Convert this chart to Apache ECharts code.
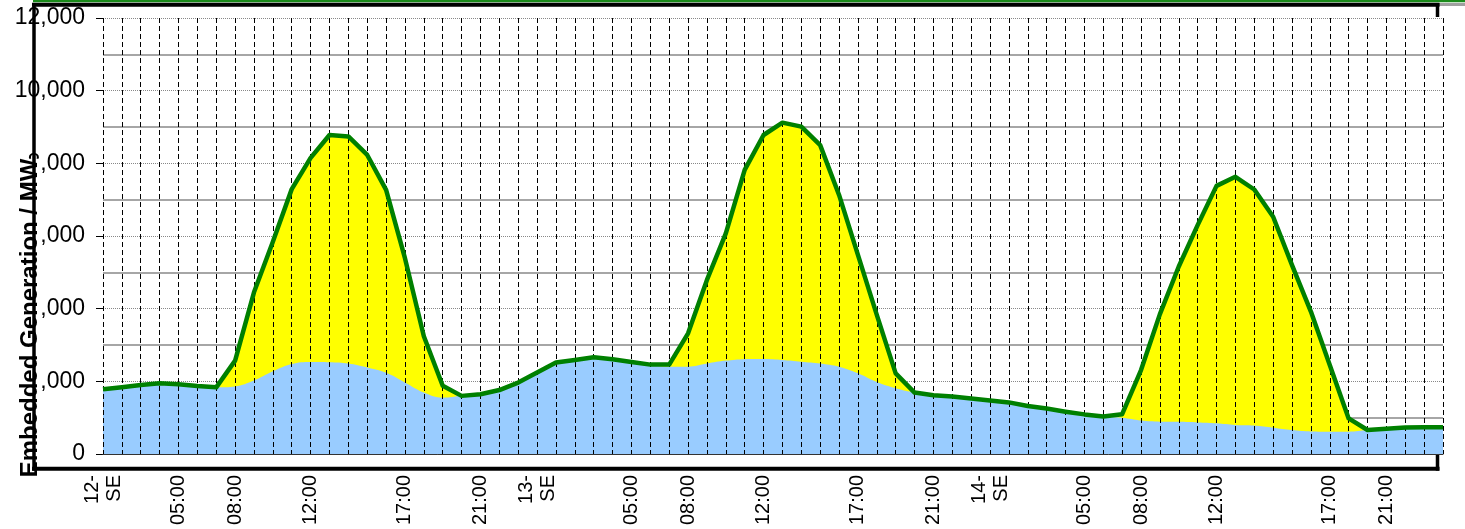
<!DOCTYPE html>
<html><head><meta charset="utf-8">
<script src="https://cdn.jsdelivr.net/npm/echarts@6/dist/echarts.min.js"></script>
<style>html,body{margin:0;padding:0;background:#fff}#c{width:1465px;height:529px}</style>
</head><body><div id="c"></div>
<script>
// Category (hour) labels, 72 hourly points over three days
const hourLabels = [
  '12-\nSE','','','','05:00','','','08:00','','','','12:00','','','','','17:00','','','','21:00','','',
  '13-\nSE','','','','','05:00','','','08:00','','','','12:00','','','','','17:00','','','','21:00','','',
  '14-\nSE','','','','','05:00','','','08:00','','','','12:00','','','','','','17:00','','','21:00','','',''
];
// Total embedded generation (green line), MW
const totalGen = [
  1780,1835,1900,1945,1920,1870,1835,2570,4450,5840,7290,8150,8780,8740,8230,7270,5390,3240,1880,1600,1645,1760,1965,2240,
  2520,2590,2660,2605,2530,2460,2460,3320,4790,6070,7820,8780,9120,9010,8500,7130,5480,3830,2220,1690,1615,1580,1530,1470,
  1420,1320,1250,1165,1090,1030,1095,2310,3850,5160,6300,7380,7630,7280,6530,5200,3920,2450,980,660,695,730,735,735
];
// Embedded wind (blue area), MW
const windGen = [
  1780,1835,1900,1945,1920,1870,1835,1860,2020,2275,2477,2532,2525,2490,2380,2235,1970,1690,1550,1600,1645,1760,1965,2240,
  2520,2590,2660,2605,2530,2440,2400,2404,2490,2570,2610,2615,2590,2540,2490,2400,2220,1980,1810,1690,1615,1580,1530,1470,
  1420,1320,1250,1165,1090,1030,995,920,890,885,870,845,800,785,725,660,620,615,615,660,695,730,735,735
];
const yTicks = {min: 0, max: 12000, interval: 2000};

const chart = echarts.init(document.getElementById('c'), null, {renderer: 'canvas'});
const FONT = '"Liberation Sans", Arial, sans-serif';
chart.setOption({
  animation: false,
  backgroundColor: '#fff',
  grid: {left: 103, right: 22, top: 18, bottom: 75, containLabel: false},
  xAxis: {
    type: 'category', data: hourLabels, boundaryGap: false, z: 3,
    axisLine: {show: true, lineStyle: {color: '#333', width: 1}},
    axisTick: {show: false},
    axisLabel: {interval: 0, rotate: 90, margin: 21, color: '#000', fontFamily: FONT, fontSize: 20, lineHeight: 22},
    splitLine: {show: true, interval: 0, lineStyle: {color: '#000', width: 1, type: [5, 3]}}
  },
  yAxis: {
    type: 'value', min: yTicks.min, max: yTicks.max, interval: yTicks.interval,
    axisLine: {show: false},
    axisTick: {show: true, length: 7, lineStyle: {color: '#000'}},
    axisLabel: {margin: 18, color: '#000', fontFamily: FONT, fontSize: 23,
      formatter: v => v.toLocaleString('en-US')},
    splitLine: {show: true, lineStyle: {color: '#888', width: 1, type: [1, 1]}},
    minorTick: {show: false, splitNumber: 2},
    minorSplitLine: {show: true, lineStyle: {color: '#a6a6a6', width: 2}}
  },
  series: [
    {name: 'Total area', type: 'line', data: totalGen, symbol: 'none', z: 1,
     lineStyle: {width: 0}, areaStyle: {color: '#ffff00', opacity: 1}},
    {name: 'Wind', type: 'line', data: windGen, symbol: 'none', smooth: 0.4, z: 2,
     lineStyle: {width: 0}, areaStyle: {color: '#99ccff', opacity: 1}},
    {name: 'Total', type: 'line', data: totalGen, symbol: 'none', z: 5,
     lineStyle: {color: '#008000', width: 4.5, join: 'round'}}
  ],
  graphic: [
    {type: 'text', x: 30, y: 318, rotation: Math.PI / 2, z: 10,
     style: {text: 'Embedded Generation / MW', font: 'bold 24px ' + FONT, fill: '#000',
       align: 'center', verticalAlign: 'middle', backgroundColor: '#fff', padding: [0, 0]}},
    {type: 'line', z: 11, shape: {x1: 33, y1: 1, x2: 1465, y2: 1}, style: {stroke: '#1a8a1a', lineWidth: 2.5}},
    {type: 'line', z: 11, shape: {x1: 1439, y1: 4.5, x2: 1465, y2: 4.5}, style: {stroke: '#a0a0a0', lineWidth: 3}},
    {type: 'line', z: 11, shape: {x1: 32, y1: 4.7, x2: 1439.5, y2: 4.7}, style: {stroke: '#000', lineWidth: 4}},
    {type: 'line', z: 11, shape: {x1: 34, y1: 3, x2: 34, y2: 470.7}, style: {stroke: '#000', lineWidth: 3.5}},
    {type: 'line', z: 11, shape: {x1: 32, y1: 468.7, x2: 1439.5, y2: 468.7}, style: {stroke: '#000', lineWidth: 4}},
    {type: 'line', z: 11, shape: {x1: 1437.5, y1: 3, x2: 1437.5, y2: 17}, style: {stroke: '#000', lineWidth: 3.5}},
    {type: 'line', z: 11, shape: {x1: 1437.5, y1: 455, x2: 1437.5, y2: 470.7}, style: {stroke: '#000', lineWidth: 3.5}}
  ]
});
</script></body></html>
